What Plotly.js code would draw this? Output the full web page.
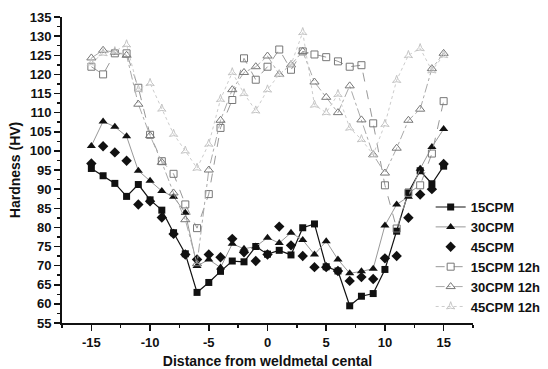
<!DOCTYPE html>
<html>
<head>
<meta charset="utf-8">
<script src="https://cdn.plot.ly/plotly-3.0.1.min.js"></script>
<style>html,body{margin:0;padding:0;background:#fff;}#chart{width:548px;height:369px;}</style>
</head>
<body>
<div id="chart"></div>
<script>
const distance = [-15,-14,-13,-12,-11,-10,-9,-8,-7,-6,-5,-4,-3,-2,-1,0,1,2,3,4,5,6,7,8,9,10,11,12,13,14,15];

const cpm15 = [95.4,93.5,91.5,88.1,91.2,87.2,84.5,78.6,73.1,63,65.6,68.5,71.2,71,75,73,74,72.8,79.9,80.9,69.7,68.6,59.5,62,62.7,69,79,89.2,94.8,91.4,96];
const cpm30 = [101.3,107.7,106.3,103.8,94.8,92.2,89.5,88,83.8,69.9,71.6,69.5,75.7,74.4,75,77.3,75.9,78.6,76.7,72.9,76.4,71.6,68,68.5,69.2,80.5,86,88,95.3,101,105.7];
const cpm45 = [96.7,101.2,99.6,97.4,86,86.8,82.6,78.3,72.9,71.6,72.9,72.2,77,73.5,71.2,72.9,80.2,75.3,72.5,69.6,69.6,68.6,66,67,66.5,71.9,72.5,82.5,88.6,90,96.6];
const cpm15h = [122,120,125.5,125.5,116.5,104.2,97.3,94,86,79.8,88.7,106,113.3,124.2,118.6,122,126.5,121.2,126,125.2,124.5,123.4,122,122.4,107.2,91,79.7,89,91,99.3,113];
const cpm30h = [124.3,126.3,125.8,125,112.2,104,97,89,82,70.5,95,108,116,120.5,122,124.8,120,122.5,126,118,114,110,117,108.1,99,94.2,100.7,108,110.9,121.5,125.5];
const cpm45h = [123,125.5,126,127.8,116,117.7,111,104.4,100,95.5,101.8,113.5,120.5,115,110.5,116,120,122.5,131,112,110,114.8,106,103,99,107,118.5,125,126.8,121,125];

const xTicks = [-15,-10,-5,0,5,10,15];
const xTickText = ['-15','-10','-5','0','5','10','15'];
const yTicks = [55,60,65,70,75,80,85,90,95,100,105,110,115,120,125,130,135];

const traces = [
  {x: distance, y: cpm15, name: '15CPM', mode: 'lines+markers',
   line: {color: '#111', width: 1.2},
   marker: {symbol: 'square', size: 7, color: '#111'}},
  {x: distance, y: cpm30, name: '30CPM', mode: 'lines+markers',
   line: {color: '#999', width: 1},
   marker: {symbol: 'triangle-up', size: 8, color: '#111'}},
  {x: distance, y: cpm45, name: '45CPM', mode: 'markers',
   marker: {symbol: 'diamond', size: 8, color: '#111'}},
  {x: distance, y: cpm15h, name: '15CPM 12h', mode: 'lines+markers',
   line: {color: '#999', width: 1, dash: 'dash'},
   marker: {symbol: 'square-open', size: 7, color: '#777', line: {width: 1}}},
  {x: distance, y: cpm30h, name: '30CPM 12h', mode: 'lines+markers',
   line: {color: '#aaa', width: 1, dash: 'dashdot'},
   marker: {symbol: 'triangle-up-open', size: 8, color: '#777', line: {width: 1}}},
  {x: distance, y: cpm45h, name: '45CPM 12h', mode: 'lines+markers',
   line: {color: '#ccc', width: 1, dash: 'dot'},
   marker: {symbol: 'star-triangle-up-open', size: 6, color: '#c4c4c4', line: {width: 1}}}
];

const layout = {
  width: 548, height: 369,
  margin: {l: 62, r: 75, t: 17, b: 46, autoexpand: false},
  paper_bgcolor: '#fff', plot_bgcolor: '#fff',
  font: {family: 'Liberation Sans, Arial, sans-serif', size: 12, color: '#111', weight: 'bold'},
  showlegend: true,
  legend: {x: 0.897, y: 0.428, xanchor: 'left', yanchor: 'top',
           bgcolor: 'rgba(0,0,0,0)', font: {size: 13, color: '#111', weight: 'bold'},
           tracegroupgap: 0, itemwidth: 30},
  xaxis: {range: [-17.5, 17.5], tickmode: 'array', tickvals: xTicks, ticktext: xTickText,
          showgrid: false, zeroline: false, showline: true, linecolor: '#111', linewidth: 2,
          ticks: 'outside', ticklen: 6, tickwidth: 1.5, tickcolor: '#111',
          minor: {tickmode: 'linear', tick0: -17.5, dtick: 2.5, ticks: 'outside', ticklen: 3, tickcolor: '#111', showgrid: false},
          tickfont: {size: 13, weight: 'bold'},
          title: {text: 'Distance from weldmetal cental', font: {size: 14, weight: 'bold'}, standoff: 8}},
  yaxis: {range: [55, 135], tickmode: 'array', tickvals: yTicks,
          showgrid: false, zeroline: false, showline: true, linecolor: '#111', linewidth: 2,
          ticks: 'outside', ticklen: 6, tickwidth: 1.5, tickcolor: '#111',
          minor: {tickmode: 'linear', tick0: 55, dtick: 2.5, ticks: 'outside', ticklen: 3, tickcolor: '#111', showgrid: false},
          tickfont: {size: 13, weight: 'bold'},
          title: {text: 'Hardness (HV)', font: {size: 14, weight: 'bold'}, standoff: 6}}
};

Plotly.newPlot('chart', traces, layout, {displayModeBar: false, staticPlot: true});
</script>
</body>
</html>
